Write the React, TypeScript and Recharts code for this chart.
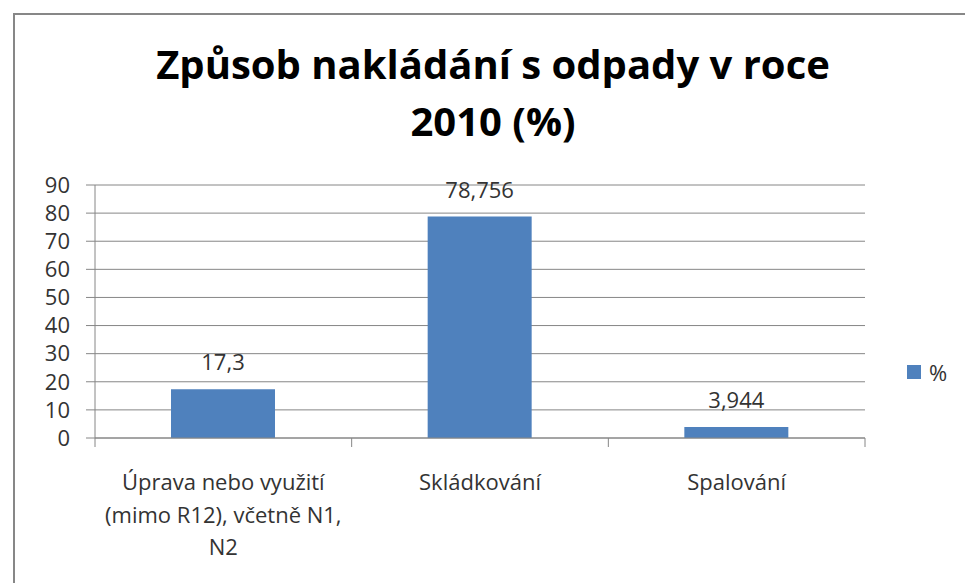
import React from "react";
import { BarChart, Bar, XAxis, YAxis, CartesianGrid, LabelList, Legend } from "recharts";

const categories = ["Úprava nebo využití (mimo R12), včetně N1, N2", "Skládkování", "Spalování"];
const categoryLines = [["Úprava nebo využití", "(mimo R12), včetně N1,", "N2"], ["Skládkování"], ["Spalování"]];
const values = [17.3, 78.756, 3.944];
const yTicks = [0, 10, 20, 30, 40, 50, 60, 70, 80, 90];
const seriesName = "%";

const data = categories.map((name, i) => ({ name, value: values[i] }));

const FONT = "'Open Sans', sans-serif";
const AXIS = "#868686";
const BAR = "#4F81BD";
const TICK = 9;

// popisky kategorií + značky na hranicích kategorií (jako v Excelu)
const CategoryTick = (props: any) => {
  const { x, y, payload, index, visibleTicksCount } = props;
  const half = payload.offset || 0;
  const top = y - TICK;
  const lines = categoryLines[index] || [String(payload.value)];
  return (
    <g>
      <line x1={x - half} x2={x - half} y1={top} y2={y} stroke={AXIS} />
      {index === visibleTicksCount - 1 && (
        <line x1={x + half} x2={x + half} y1={top} y2={y} stroke={AXIS} />
      )}
      <text x={x} y={y + 43} textAnchor="middle" fontSize={22} fill="#333" fontFamily={FONT}>
        {lines.map((l, i) => (
          <tspan key={i} x={x} dy={i === 0 ? 0 : 32.5}>
            {l}
          </tspan>
        ))}
      </text>
    </g>
  );
};

const LegendContent = () => (
  <div style={{ display: "flex", alignItems: "center", fontFamily: FONT, fontSize: 22, color: "#333" }}>
    <span style={{ width: 14, height: 14, background: BAR, display: "inline-block", marginRight: 8 }} />
    <span>{seriesName}</span>
  </div>
);

export default function App() {
  return (
    <div style={{ position: "absolute", left: 0, top: 0, width: 965, height: 583, background: "#fff", overflow: "hidden" }}>
      <div
        style={{
          position: "absolute",
          left: 13,
          top: 13,
          width: 965,
          height: 600,
          border: "2px solid #878787",
          boxSizing: "border-box",
        }}
      />
      <div
        style={{
          position: "absolute",
          left: 0,
          top: 35,
          width: 986,
          textAlign: "center",
          fontFamily: FONT,
          fontWeight: 700,
          fontSize: 40,
          lineHeight: "57px",
          color: "#000",
        }}
      >
        Způsob nakládání s odpady v roce
        <br />
        2010 (%)
      </div>
      <div style={{ position: "absolute", left: 0, top: 0 }}>
        <BarChart width={965} height={583} data={data} margin={{ top: 185, right: 40, left: 45, bottom: 45 }}>
          <CartesianGrid vertical={false} stroke={AXIS} strokeWidth={1} />
          <XAxis
            dataKey="name"
            tick={<CategoryTick />}
            tickLine={false}
            tickSize={TICK}
            tickMargin={0}
            axisLine={{ stroke: AXIS }}
            height={100}
            interval={0}
          />
          <YAxis
            domain={[0, 90]}
            ticks={yTicks}
            interval={0}
            width={50}
            tickSize={TICK}
            tickMargin={16}
            tickLine={{ stroke: AXIS }}
            axisLine={{ stroke: AXIS }}
            tick={{ fill: "#333", fontSize: 22, fontFamily: FONT }}
          />
          <Legend
            layout="horizontal"
            verticalAlign="middle"
            align="right"
            content={<LegendContent />}
            wrapperStyle={{ position: "absolute", left: 907, top: 357, width: 60 }}
          />
          <Bar dataKey="value" name={seriesName} fill={BAR} barSize={104} isAnimationActive={false}>
            <LabelList
              dataKey="value"
              position="top"
              offset={19}
              formatter={(v: any) => String(v).replace(".", ",")}
              style={{ fill: "#333", fontSize: 22, fontFamily: FONT }}
            />
          </Bar>
        </BarChart>
      </div>
    </div>
  );
}
